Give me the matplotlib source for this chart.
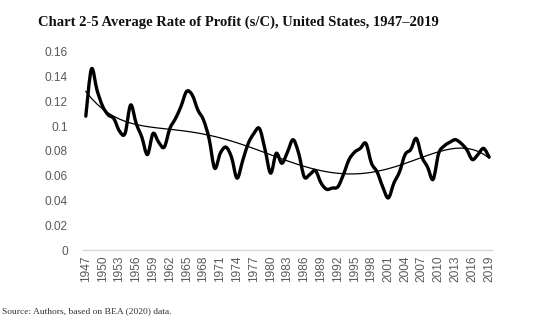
import numpy as np
import matplotlib
matplotlib.use("Agg")
import matplotlib.pyplot as plt
from matplotlib.path import Path
from matplotlib.patches import PathPatch

## Values
years = list(range(1947, 2020))
rate = [
    0.108, 0.146, 0.129, 0.116, 0.109, 0.106, 0.096, 0.094, 0.117, 0.102,  # 1947-1956
    0.091, 0.077, 0.094, 0.087, 0.083, 0.098, 0.106, 0.116, 0.128, 0.125,  # 1957-1966
    0.113, 0.105, 0.090, 0.066, 0.078, 0.083, 0.075, 0.058, 0.072, 0.086,  # 1967-1976
    0.094, 0.098, 0.081, 0.062, 0.078, 0.070, 0.079, 0.089, 0.078, 0.059,  # 1977-1986
    0.061, 0.064, 0.054, 0.049, 0.050, 0.051, 0.061, 0.073, 0.079, 0.082,  # 1987-1996
    0.086, 0.070, 0.063, 0.051, 0.042, 0.054, 0.063, 0.077, 0.081, 0.090,  # 1997-2006
    0.075, 0.067, 0.057, 0.078, 0.084, 0.087, 0.089, 0.086, 0.081, 0.073,  # 2007-2016
    0.077, 0.082, 0.075,                                                   # 2017-2019
]
yticks = [0, 0.02, 0.04, 0.06, 0.08, 0.1, 0.12, 0.14, 0.16]
ytick_labels = ["0", "0.02", "0.04", "0.06", "0.08", "0.1", "0.12", "0.14", "0.16"]
title = "Chart 2-5 Average Rate of Profit (s/C), United States, 1947\u20132019"
source = "Source: Authors, based on BEA (2020) data."


def smooth_path(x, y):
    # Excel style smoothed line: Catmull-Rom as cubic Bezier segments
    pts = np.column_stack([x, y])
    n = len(pts)
    verts = [pts[0]]
    codes = [Path.MOVETO]
    for i in range(n - 1):
        p0 = pts[i - 1] if i > 0 else pts[i]
        p1 = pts[i]
        p2 = pts[i + 1]
        p3 = pts[i + 2] if i + 2 < n else pts[i + 1]
        c1 = p1 + (p2 - p0) / 6.0
        c2 = p2 - (p3 - p1) / 6.0
        verts += [c1, c2, p2]
        codes += [Path.CURVE4] * 3
    return Path(verts, codes)


idx = np.arange(len(years))
vals = np.array(rate)

## polynomial trend line, as in the original spreadsheet chart
coef = np.polyfit(idx, vals, 5)
trend = np.polyval(coef, idx)

fig = plt.figure(figsize=(5.59, 3.28), dpi=100)
ax = fig.add_axes([0.1485, 0.2378, 0.7315, 0.6046])

ax.add_patch(PathPatch(smooth_path(idx, vals), fill=False, lw=2.4,
                       edgecolor="black", capstyle="round", joinstyle="round"))
ax.plot(idx, trend, color="black", lw=0.9)

ax.set_xlim(-0.5, len(years) - 0.5)
ax.set_ylim(0, 0.16)
ax.set_yticks(yticks)
ax.set_yticklabels(ytick_labels)
ax.set_xticks(idx[::3])
ax.set_xticklabels([str(y) for y in years[::3]], rotation=90)

for s in ["top", "right", "left"]:
    ax.spines[s].set_visible(False)
ax.spines["bottom"].set_color("#d9d9d9")
ax.spines["bottom"].set_linewidth(1.0)
ax.tick_params(axis="both", length=0, colors="#595959", labelsize=8.6)
ax.tick_params(axis="y", pad=11)
ax.tick_params(axis="x", pad=4)
for lab in ax.get_xticklabels() + ax.get_yticklabels():
    lab.set_family("Liberation Sans")

fig.text(0.068, 0.933, title, fontsize=10.5, fontweight="bold",
         family="Liberation Serif", va="center", ha="left", color="#111111")
fig.text(0.004, 0.052, source, fontsize=6.8, family="Liberation Serif",
         va="center", ha="left", color="#333333")

fig.savefig("out.png", dpi=100)
